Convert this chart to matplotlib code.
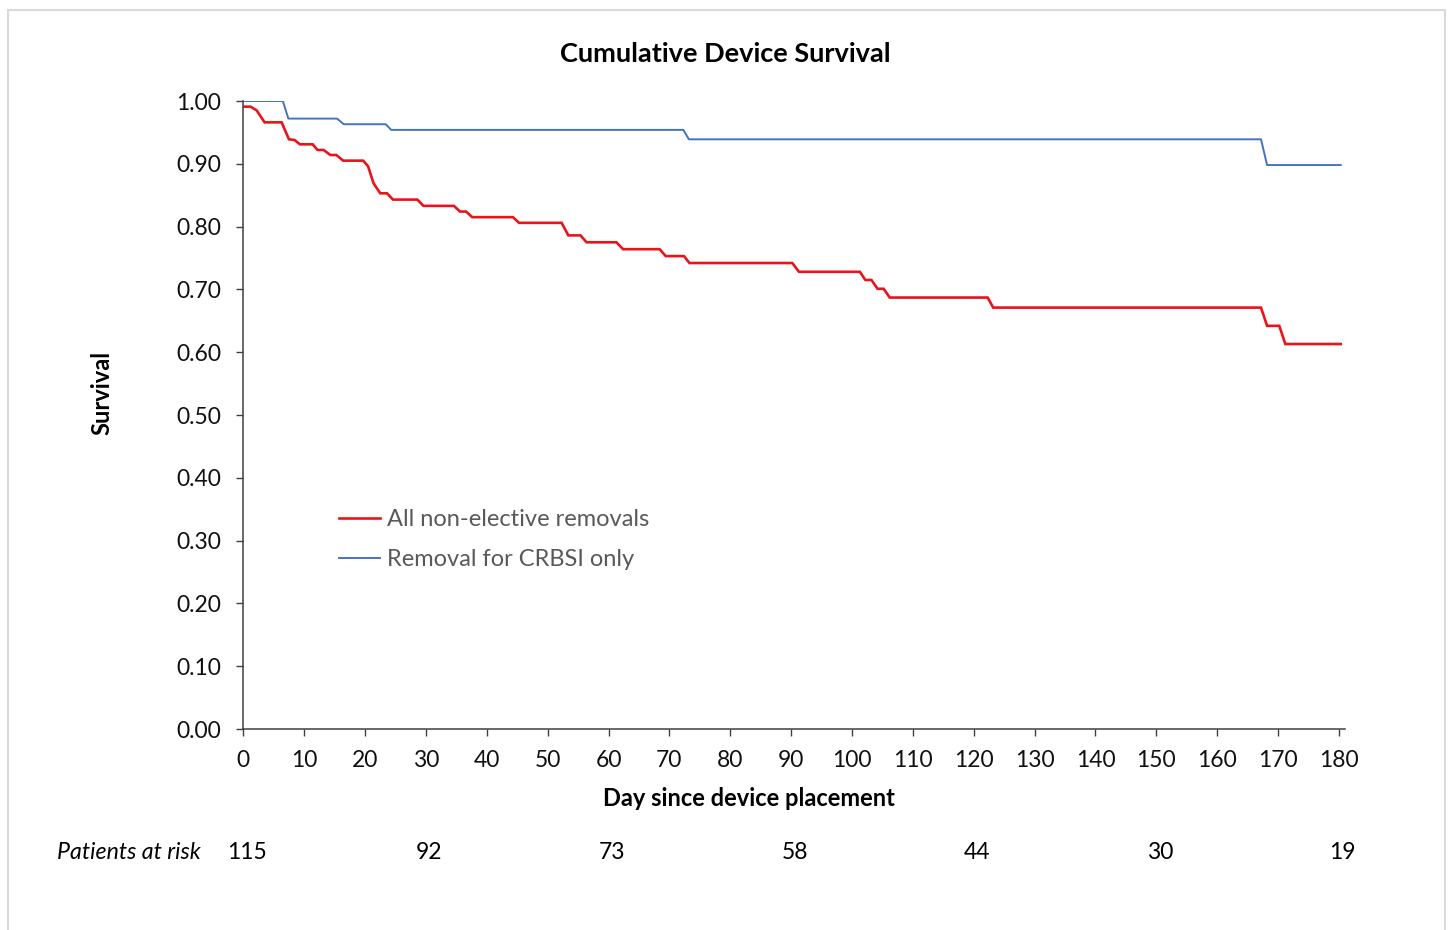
import matplotlib
matplotlib.use("Agg")
import matplotlib.pyplot as plt
import matplotlib.patches as mpatches
import matplotlib.transforms as mtransforms
from matplotlib.lines import Line2D

# ---- data ----
all_days = [0, 1.2, 2.2, 3.5, 6.3, 7.5, 8.4, 9.3, 11.4, 12.2, 13.2, 14.3, 15.3, 16.4,
            19.7, 20.5, 21.4, 22.5, 23.6, 24.6, 28.6, 29.6, 34.6, 35.6, 36.6, 37.6,
            44.3, 45.3, 52.3, 53.4, 55.4, 56.4, 61.3, 62.4, 68.4, 69.4, 72.4, 73.3,
            90.2, 91.3, 101.3, 102.2, 103.2, 104.2, 105.2, 106.2, 122.3, 123.2,
            167.2, 168.2, 170.2, 171.2, 180.3]
all_surv = [0.991, 0.991, 0.985, 0.966, 0.966, 0.939, 0.938, 0.931, 0.931, 0.922, 0.922, 0.914, 0.914, 0.905,
            0.905, 0.896, 0.869, 0.853, 0.853, 0.843, 0.843, 0.833, 0.833, 0.824, 0.824, 0.815,
            0.815, 0.806, 0.806, 0.786, 0.786, 0.775, 0.775, 0.764, 0.764, 0.753, 0.753, 0.742,
            0.742, 0.728, 0.728, 0.715, 0.715, 0.701, 0.701, 0.687, 0.687, 0.671,
            0.671, 0.642, 0.642, 0.613, 0.613]

crbsi_days = [0, 6.5, 7.4, 15.4, 16.5, 23.4, 24.3, 72.3, 73.2, 167.2, 168.2, 180.3]
crbsi_surv = [1.0, 1.0, 0.972, 0.972, 0.963, 0.963, 0.954, 0.954, 0.939, 0.939, 0.898, 0.898]

series_labels = ["All non-elective removals", "Removal for CRBSI only"]
x_ticks = list(range(0, 181, 10))
y_ticks = [i / 10 for i in range(0, 11)]
risk_days = [0, 30, 60, 90, 120, 150, 180]
risk_counts = [115, 92, 73, 58, 44, 30, 19]

title = "Cumulative Device Survival"
x_label = "Day since device placement"
y_label = "Survival"
risk_label = "Patients at risk"

# ---- figure ----
W, H = 1448, 930
plt.rcParams['font.family'] = ['Lato', 'DejaVu Sans']
fig = plt.figure(figsize=(W / 100, H / 100), dpi=100)
fig.patch.set_facecolor('white')

def fx(px):
    return px / W

def fy(py):
    return 1 - py / H

x0, x1 = 243.3, 1345.0
y0, y1 = 729.0, 101.0
ax = fig.add_axes([fx(x0), fy(y0), fx(x1) - fx(x0), fy(y1) - fy(y0)])

red = '#e8141a'
blue = '#4472c4'
ax.plot(all_days, all_surv, color=red, lw=1.9, solid_joinstyle='miter')
ax.plot(crbsi_days, crbsi_surv, color=blue, lw=1.4)

ax.set_xlim(0, 181)
ax.set_ylim(0, 1.0)
ax.set_xticks(x_ticks)
ax.set_yticks(y_ticks)
ax.set_yticklabels([f"{v:.2f}" for v in y_ticks])
for s in ['top', 'right']:
    ax.spines[s].set_visible(False)
for s in ['left', 'bottom']:
    ax.spines[s].set_color('#404040')
    ax.spines[s].set_linewidth(1.1)
ax.tick_params(axis='both', direction='out', length=5, width=1.0, color='#404040',
               labelsize=16.5, labelcolor='#111111')
ax.tick_params(axis='y', pad=11)
ax.tick_params(axis='x', pad=10)

# legend
handles = [Line2D([], [], color=red, lw=1.9), Line2D([], [], color=blue, lw=1.4)]
leg = ax.legend(handles, series_labels, loc='upper left',
                bbox_to_anchor=(fx(339), fy(509)), bbox_transform=fig.transFigure,
                frameon=False, fontsize=17, handlelength=1.75, handletextpad=0.3,
                labelspacing=0.82, borderpad=0, borderaxespad=0)
for t in leg.get_texts():
    t.set_color('#595959')

# titles / labels
fig.text(fx(725), fy(54), title, ha='center', va='center', fontsize=19.5, fontweight='bold')
fig.text(fx(749), fy(798), x_label, ha='center', va='center', fontsize=17, fontweight='bold')
fig.text(fx(102), fy(393), y_label, ha='center', va='center', rotation=90,
         fontsize=17, fontweight='bold')

# patients at risk row
fig.text(fx(57), fy(852), risk_label, ha='left', va='center', fontsize=16.7, style='italic')
trans = mtransforms.blended_transform_factory(ax.transData, fig.transFigure)
trans = mtransforms.offset_copy(trans, fig=fig, x=3.5, y=0, units='dots')
for d, n in zip(risk_days, risk_counts):
    ax.text(d, fy(852), str(n), transform=trans, ha='center', va='center',
            fontsize=16.5, clip_on=False)

# outer border
border = mpatches.Rectangle((fx(8), fy(940)), fx(1445) - fx(8), fy(10) - fy(940),
                            transform=fig.transFigure, fill=False,
                            edgecolor='#d9d9d9', lw=1.5)
fig.add_artist(border)

fig.savefig('out.png', dpi=100)
